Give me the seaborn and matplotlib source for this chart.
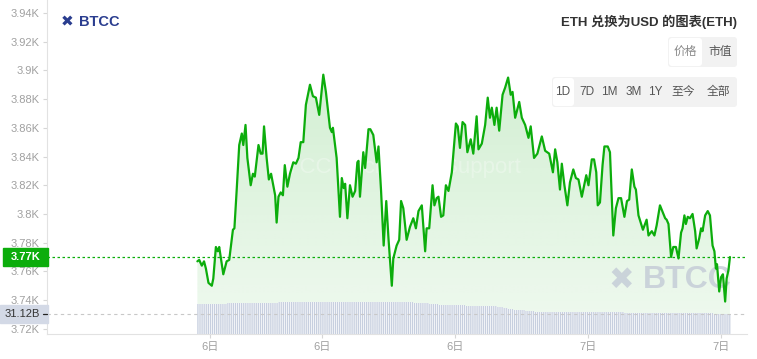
import numpy as np
import pandas as pd
import matplotlib
matplotlib.use("Agg")
import matplotlib.pyplot as plt
import seaborn as sns
from matplotlib.patches import Rectangle, FancyBboxPatch
from matplotlib.transforms import blended_transform_factory, IdentityTransform
from matplotlib.colors import to_rgb

# ---------------- data ----------------
minutes = [
    0, 5, 12, 18, 23, 30, 39, 43, 50, 55,
    59, 70, 79, 86, 96, 100, 106, 113, 120, 124,
    130, 135, 144, 150, 155, 165, 171, 176, 180, 187,
    193, 199, 205, 210, 214, 219, 225, 231, 236, 243,
    250, 259, 266, 273, 279, 286, 293, 304, 312, 320,
    329, 340, 347, 358, 363, 366, 376, 385, 390, 395,
    399, 405, 412, 419, 426, 432, 435, 439, 448, 453,
    462, 467, 475, 484, 489, 496, 503, 510, 516, 525,
    529, 538, 545, 550, 556, 565, 574, 583, 590, 597,
    606, 615, 619, 626, 635, 640, 646, 651, 658, 664,
    671, 678, 687, 698, 703, 709, 716, 723, 729, 738,
    745, 754, 759, 768, 777, 784, 790, 795, 802, 808,
    815, 824, 831, 839, 846, 851, 858, 869, 876, 885,
    894, 900, 909, 918, 930, 939, 950, 960, 966, 972,
    979, 984, 991, 999, 1006, 1015, 1022, 1029, 1038, 1050,
    1056, 1065, 1071, 1077, 1081, 1087, 1094, 1099, 1108, 1114,
    1123, 1130, 1137, 1144, 1153, 1160, 1166, 1173, 1180, 1184,
    1191, 1203, 1213, 1218, 1227, 1234, 1240, 1249, 1263, 1267,
    1272, 1279, 1285, 1292, 1299, 1306, 1310, 1315, 1319, 1324,
    1330, 1337, 1344, 1348, 1355, 1360, 1364, 1371, 1378, 1384,
    1391, 1396, 1400, 1403, 1409, 1414, 1419, 1425, 1429, 1434, 1438,
]

price_usd = [
    3767, 3768, 3764, 3767, 3762, 3752, 3750, 3755, 3777, 3774,
    3777, 3758, 3767, 3768, 3789, 3790, 3816, 3848, 3856, 3848,
    3862, 3839, 3820, 3828, 3826, 3848, 3842, 3842, 3861, 3839,
    3824, 3828, 3820, 3813, 3794, 3812, 3815, 3813, 3834, 3819,
    3828, 3836, 3835, 3839, 3850, 3850, 3876, 3890, 3882, 3881,
    3869, 3897, 3885, 3860, 3857, 3860, 3839, 3798, 3825, 3818,
    3821, 3797, 3820, 3812, 3816, 3836, 3837, 3812, 3843, 3832,
    3859, 3859, 3855, 3836, 3847, 3816, 3778, 3809, 3783, 3750,
    3769, 3778, 3782, 3809, 3804, 3782, 3791, 3797, 3790, 3802,
    3806, 3774, 3790, 3790, 3820, 3806, 3811, 3812, 3798, 3799,
    3820, 3816, 3829, 3863, 3861, 3846, 3864, 3862, 3843, 3852,
    3842, 3868, 3845, 3849, 3862, 3881, 3867, 3874, 3862, 3874,
    3858, 3883, 3888, 3895, 3883, 3885, 3867, 3878, 3867, 3862,
    3853, 3861, 3839, 3842, 3854, 3844, 3842, 3829, 3845, 3836,
    3817, 3835, 3820, 3806, 3822, 3831, 3825, 3824, 3812, 3827,
    3820, 3838, 3838, 3829, 3806, 3808, 3834, 3847, 3847, 3843,
    3785, 3804, 3811, 3811, 3798, 3809, 3810, 3831, 3819, 3817,
    3799, 3789, 3796, 3785, 3788, 3785, 3792, 3806, 3797, 3796,
    3793, 3770, 3777, 3777, 3769, 3787, 3790, 3799, 3793, 3798,
    3797, 3800, 3788, 3776, 3783, 3790, 3788, 3799, 3802, 3799,
    3778, 3774, 3762, 3765, 3746, 3756, 3758, 3739, 3755, 3761, 3770,
]

volume_b = [
    46.7, 46.8, 46.8, 46.9, 47.0, 47.0, 47.1, 47.2, 47.2, 47.3,
    47.3, 47.4, 47.5, 47.5, 47.6, 47.7, 47.7, 47.8, 47.9, 47.9,
    48.0, 48.0, 48.1, 48.2, 48.2, 48.3, 48.4, 48.5, 48.6, 48.7,
    48.8, 48.9, 48.9, 49.0, 49.0, 49.1, 49.1, 49.2, 49.2, 49.3,
    49.4, 49.5, 49.5, 49.6, 49.6, 49.7, 49.8, 49.8, 49.9, 50.0,
    50.0, 50.1, 50.2, 50.2, 50.3, 50.3, 50.3, 50.3, 50.3, 50.2,
    50.2, 50.2, 50.2, 50.1, 50.1, 50.1, 50.1, 50.0, 50.0, 50.0,
    50.0, 49.9, 49.9, 49.8, 49.8, 49.7, 49.7, 49.6, 49.6, 49.5,
    49.5, 49.4, 49.4, 49.3, 49.2, 49.2, 49.1, 49.0, 48.9, 48.8,
    48.4, 48.0, 47.6, 47.2, 46.8, 46.4, 46.0, 45.7, 45.4, 45.1,
    45.0, 44.9, 44.8, 44.7, 44.6, 44.5, 44.4, 44.3, 44.2, 44.1,
    44.0, 43.9, 43.8, 43.8, 43.7, 43.7, 43.6, 43.6, 43.0, 42.2,
    41.4, 40.6, 39.8, 39.0, 38.4, 37.9, 37.3, 37.0, 36.6, 36.2,
    35.8, 35.4, 35.0, 34.8, 34.6, 34.4, 34.3, 34.2, 34.2, 34.2,
    34.1, 34.1, 34.1, 34.0, 34.0, 34.0, 33.9, 33.9, 33.9, 33.8,
    33.8, 33.8, 33.7, 33.7, 33.7, 33.7, 33.6, 33.6, 33.6, 33.6,
    33.5, 33.5, 33.5, 33.5, 33.4, 33.4, 33.4, 33.4, 33.4, 33.3,
    33.3, 33.3, 33.3, 33.3, 33.2, 33.2, 33.2, 33.2, 33.2, 33.2,
    33.2, 33.1, 33.1, 33.1, 33.1, 33.1, 33.1, 33.1, 33.1, 33.1,
    33.1, 33.0, 33.0, 33.0, 33.0, 33.0, 32.9, 32.6, 32.3, 32.0,
    31.8, 31.6, 31.5, 31.4, 31.3, 31.3, 31.2, 31.2, 31.1, 31.1, 31.12,
]

y_ticks = [3720, 3740, 3760, 3780, 3800, 3820, 3840, 3860, 3880, 3900, 3920, 3940]
x_tick_pos = [34, 336, 696, 1056, 1413]
x_tick_labels = ["6日", "6日", "6日", "7日", "7日"]
title_text = "ETH 兑换为USD 的图表(ETH)"
toggle_labels = ["价格", "市值"]
period_labels = ["1D", "7D", "1M", "3M", "1Y", "至今", "全部"]

assert len(minutes) == len(price_usd) == len(volume_b)

# ---------------- style ----------------
sns.set_theme(style="white")
plt.rcParams['font.family'] = ['Liberation Sans', 'Noto Sans CJK SC', 'DejaVu Sans']
plt.rcParams['hatch.linewidth'] = 0.55

W, H = 757, 359
GREEN = '#0cad0c'

def P(x, y):
    return (x / W, 1 - y / H)

fig = plt.figure(figsize=(W / 100, H / 100), dpi=100)
fig.patch.set_facecolor('white')
ax = fig.add_axes([47 / W, 25 / H, 700 / W, 334 / H])
ax.set_facecolor('white')
YMIN, YMAX = 3716.4, 3949.0
XMIN, XMAX = -406, 1484

df = pd.DataFrame({"t": minutes, "price": price_usd, "vol": volume_b})

# gradient area fill under the line
poly = ax.fill_between(df["t"], df["price"], YMIN, color='none', lw=0)
n = 256
rgba = np.zeros((n, 1, 4))
rgba[..., :3] = to_rgb('#22b022')
rgba[..., 3] = np.linspace(0.07, 0.20, n).reshape(-1, 1)
im = ax.imshow(rgba, extent=[df["t"].min(), df["t"].max(), YMIN, max(price_usd)],
               origin='lower', aspect='auto', zorder=1, interpolation='bilinear')
im.set_clip_path(poly.get_paths()[0], transform=ax.transData)
ax.set_xlim(XMIN, XMAX)
ax.set_ylim(YMIN, YMAX)

# watermarks
ax.text(*P(396, 168), "BTCC Exchange Support", transform=fig.transFigure,
        ha='center', va='center', fontsize=16, color='white', alpha=0.3, zorder=3)
ax.text(*P(621, 280), "✖", transform=fig.transFigure, ha='center', va='center',
        fontsize=22, color='#c3cad6', alpha=0.8, zorder=3, family='DejaVu Sans')
ax.text(*P(687, 280), "BTCC", transform=fig.transFigure, ha='center', va='center',
        fontsize=23, fontweight='bold', color='#c3cad6', alpha=0.8, zorder=3)

# price line
sns.lineplot(data=df, x="t", y="price", ax=ax, color=GREEN, lw=1.6, zorder=5)
ax.set_xlabel("")
ax.set_ylabel("")

# last price dotted line + label
last_p = price_usd[-1]
ax.axhline(last_p, color=GREEN, ls=(0, (2, 2)), lw=0.9, zorder=4)
bt = blended_transform_factory(ax.transAxes, ax.transData)
ax.add_patch(Rectangle((-44 / 700, last_p - 6.5), 45 / 700, 13.0, transform=bt,
                       color=GREEN, clip_on=False, zorder=6))
ax.text(-21.5 / 700, last_p, f"{last_p / 1000:.2f}K", transform=bt, ha='center', va='center',
        color='white', fontsize=8, fontweight='bold', zorder=7, clip_on=False)

# axes styling
for s in ['top', 'right']:
    ax.spines[s].set_visible(False)
for s in ['left', 'bottom']:
    ax.spines[s].set_color('#e2e2e2')
    ax.spines[s].set_linewidth(0.8)
ax.set_yticks(y_ticks)
ax.set_yticklabels([f"{v / 1000:g}K" for v in y_ticks])
ax.set_xticks(x_tick_pos)
ax.set_xticklabels(x_tick_labels)
ax.tick_params(axis='y', left=True, length=3, width=0.8, color='#d6d6d6',
               labelcolor='#a0a0a0', labelsize=8, pad=2.5)
ax.tick_params(axis='x', bottom=True, length=3, width=0.8, color='#d6d6d6',
               labelcolor='#a0a0a0', labelsize=8, pad=3)
ax.grid(False)

# volume bars on twin axis (adjacent bars, fine white stripes via hatch)
ax2 = ax.twinx()
ax2.set_ylim(0, 520)
t_arr = np.asarray(minutes, dtype=float)
widths = np.append(np.diff(t_arr), 4.0)
ax2.bar(t_arr, df["vol"], width=widths, align='edge', facecolor='#c7cfdf',
        edgecolor='white', lw=0, hatch='||||||||', zorder=2)
last_v = volume_b[-1]
ax2.axhline(last_v, color='#c8c8c8', ls=(0, (3, 3)), lw=0.8)
bt2 = blended_transform_factory(ax2.transAxes, ax2.transData)
ax2.add_patch(Rectangle((-47 / 700, last_v - 14.3), 48 / 700, 28.6, transform=bt2,
                        color='#d3d9e6', clip_on=False, zorder=6))
ax2.text(-25 / 700, last_v, f"{last_v:.2f}B", transform=bt2, ha='center', va='center',
         color='#333333', fontsize=8, zorder=7, clip_on=False)
ax2.plot([-4 / 700, 0], [last_v, last_v], transform=bt2, color='#222222', lw=0.9,
         clip_on=False, zorder=7)
ax2.set_yticks([])
for s in ax2.spines.values():
    s.set_visible(False)
ax2.set_xlim(XMIN, XMAX)

# top-left logo
fig.text(*P(67.5, 22), "✖", ha='center', va='center', fontsize=11, color='#2a3d8f',
         family='DejaVu Sans', fontweight='bold')
fig.text(*P(79, 22), "BTCC", ha='left', va='center', fontsize=10.5, color='#2a3d8f',
         fontweight='bold')

# title
fig.text(*P(737, 21.5), title_text, ha='right', va='center', fontsize=9.5,
         color='#333333', fontweight='bold')

# UI buttons (figure pixel coordinates)
def rbox(x0, y0, x1, y1, fc):
    p = FancyBboxPatch((x0, H - y1), x1 - x0, y1 - y0,
                       boxstyle="round,pad=0,rounding_size=3",
                       transform=IdentityTransform(), fc=fc, ec='none')
    fig.patches.append(p)

rbox(668, 37, 737, 67, '#f2f2f2')
rbox(669, 38, 702, 66, '#ffffff')
for lab, cx, col in zip(toggle_labels, [685.5, 720], ['#888888', '#555555']):
    fig.text(*P(cx, 52), lab, ha='center', va='center', fontsize=8.5, color=col)

rbox(552, 77, 737, 107, '#f2f2f2')
rbox(553, 78, 574, 106, '#ffffff')
for lab, cx in zip(period_labels, [563, 587, 609.5, 634, 655, 683.5, 718.5]):
    fig.text(*P(cx, 92), lab, ha='center', va='center', fontsize=8.5, color='#555555')

fig.savefig("out.png", dpi=100, facecolor='white')
